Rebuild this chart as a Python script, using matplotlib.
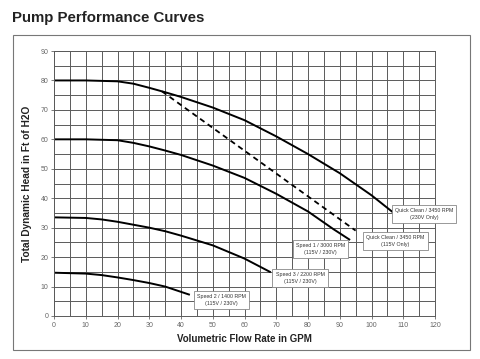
import matplotlib
matplotlib.use("Agg")
import matplotlib.pyplot as plt
from matplotlib.patches import Rectangle
import numpy as np

plt.rcParams['font.family'] = ['Liberation Sans', 'DejaVu Sans']

# ---- data ----
qc230_x = [0, 10, 20, 25, 30, 35, 40, 50, 60, 70, 80, 90, 100, 107]
qc230_y = [80, 80, 79.7, 78.9, 77.5, 76, 74.4, 70.8, 66.5, 61, 55, 48.5, 41, 35]

qc115_x = [34, 95]
qc115_y = [76.3, 29]

sp1_x = [0, 10, 20, 25, 30, 35, 40, 50, 60, 70, 80, 88, 93]
sp1_y = [60, 60, 59.7, 58.8, 57.6, 56.2, 54.7, 51.1, 46.9, 41.5, 35.5, 29.5, 26]

sp3_x = [0, 10, 15, 20, 25, 30, 35, 40, 50, 60, 68]
sp3_y = [33.5, 33.3, 32.8, 32, 31, 30, 28.8, 27.3, 24, 19.5, 15]

sp2_x = [0, 10, 15, 20, 25, 30, 35, 42.5]
sp2_y = [14.7, 14.4, 13.9, 13.1, 12.2, 11.2, 10, 7.3]

labels = [
    "Quick Clean / 3450 RPM\n(230V Only)",
    "Quick Clean / 3450 RPM\n(115V Only)",
    "Speed 1 / 3000 RPM\n(115V / 230V)",
    "Speed 3 / 2200 RPM\n(115V / 230V)",
    "Speed 2 / 1400 RPM\n(115V / 230V)",
]

x_ticks = list(range(0, 121, 10))
y_ticks = list(range(0, 91, 10))

# ---- layout ----
label_pos = [(116.5, 34.6), (107.5, 25.4), (84.0, 22.8), (77.5, 12.8), (52.7, 5.4)]

fig = plt.figure(figsize=(4.8, 3.59), dpi=100)
fig.patch.set_facecolor('white')
ax = fig.add_axes([54/480, 1 - 316/359, (435-54)/480, (316-51)/359])

# outer frame
fig.patches.append(Rectangle((13/480, 1 - 350/359), 457/480, 315/359,
                             transform=fig.transFigure, fill=False,
                             ec='#777777', lw=0.8, zorder=0))

fig.text(12/480, 1 - 18/359, "Pump Performance Curves", fontsize=10.8,
         fontweight='bold', ha='left', va='center', color='#222222')

ax.set_xlim(0, 120)
ax.set_ylim(0, 90)
ax.set_xticks(x_ticks)
ax.set_yticks(y_ticks)
ax.set_xticks(np.arange(0, 121, 5), minor=True)
ax.set_yticks(np.arange(0, 91, 5), minor=True)
ax.grid(True, which='both', color='#5a5a5a', lw=0.7)
ax.set_axisbelow(True)
ax.tick_params(which='both', labelsize=5, colors='#666666', length=2, width=0.6, pad=2)
ax.tick_params(which='minor', length=0)
for sp in ax.spines.values():
    sp.set_color('#5a5a5a')
    sp.set_linewidth(0.7)

for xs, ys in [(qc230_x, qc230_y), (sp1_x, sp1_y), (sp3_x, sp3_y), (sp2_x, sp2_y)]:
    ax.plot(xs, ys, color='black', lw=1.4, solid_joinstyle='round')
ax.plot(qc115_x, qc115_y, color='black', lw=1.3, ls=(0, (3, 2.2)))

for txt, (px, py) in zip(labels, label_pos):
    ax.text(px, py, txt, fontsize=3.8, ha='center', va='center', color='#333333',
            linespacing=1.5, clip_on=False, zorder=5,
            bbox=dict(boxstyle='square,pad=0.6', fc='white', ec='#888888', lw=0.6))

ax.set_xlabel("Volumetric Flow Rate in GPM", fontsize=7, fontweight='bold',
              color='#222222', labelpad=4)
ax.set_ylabel("Total Dynamic Head in Ft of H2O", fontsize=7.3, fontweight='bold',
              color='#222222', labelpad=6)

fig.savefig("out.png", dpi=100, facecolor='white')
